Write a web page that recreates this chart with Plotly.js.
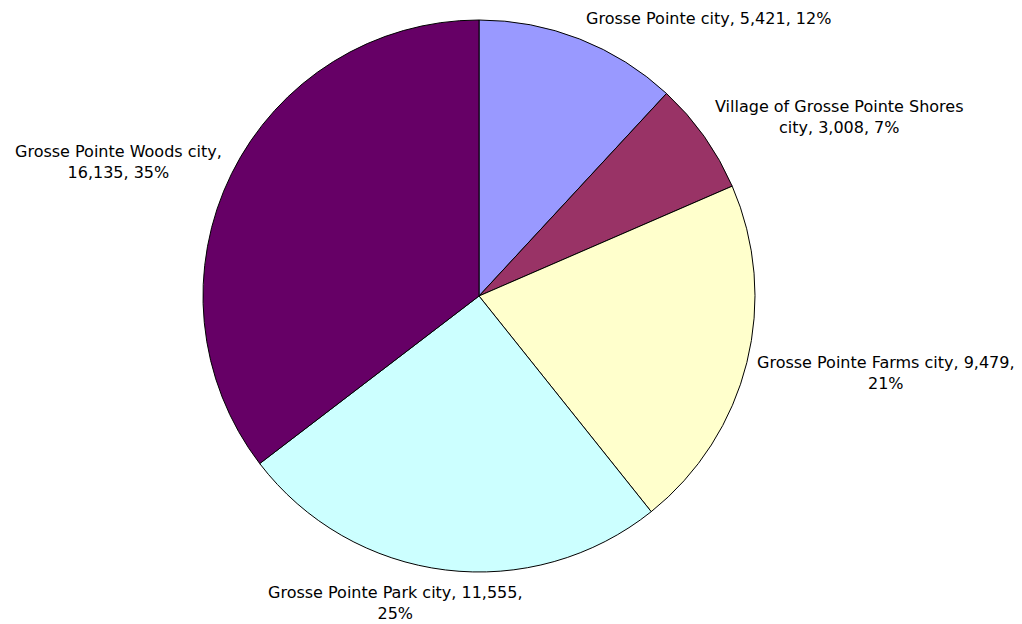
<!DOCTYPE html>
<html>
<head>
<meta charset="utf-8">
<script src="https://cdn.plot.ly/plotly-3.0.1.min.js"></script>
<style>html,body{margin:0;padding:0;background:#fff;}#chart{width:1022px;height:624px;}</style>
</head>
<body>
<div id="chart"></div>
<script>
var categories = ["Grosse Pointe city", "Village of Grosse Pointe Shores city", "Grosse Pointe Farms city", "Grosse Pointe Park city", "Grosse Pointe Woods city"];
var values = [5421, 3008, 9479, 11555, 16135];
var colors = ["#9999FF", "#993366", "#FFFFCC", "#CCFFFF", "#660066"];
// how each label's text wraps (line texts)
var labelLines = [
  ["Grosse Pointe city, 5,421, 12%"],
  ["Village of Grosse Pointe Shores", "city, 3,008, 7%"],
  ["Grosse Pointe Farms city, 9,479,", "21%"],
  ["Grosse Pointe Park city, 11,555,", "25%"],
  ["Grosse Pointe Woods city,", "16,135, 35%"]
];
// label anchor positions (paper fraction, top of text block)
var labelPos = [
  {x: 708/1022, y: 7/624},
  {x: 839/1022, y: 95/624},
  {x: 886/1022, y: 351/624},
  {x: 395/1022, y: 581/624},
  {x: 118/1022, y: 140/624}
];

var font = {family: "DejaVu Sans, sans-serif", size: 16, color: "#000"};

var annotations = labelLines.map(function(lines, i){
  return {
    xref: "paper", yref: "paper",
    x: labelPos[i].x, y: 1 - labelPos[i].y,
    xanchor: "center", yanchor: "top",
    text: lines.join("<br>"),
    showarrow: false, align: "center",
    font: font
  };
});

var trace = {
  type: "pie",
  labels: categories,
  values: values,
  sort: false,
  direction: "clockwise",
  rotation: 0,
  textinfo: "none",
  hoverinfo: "label+value+percent",
  marker: {colors: colors, line: {color: "#000", width: 1}},
  domain: {x: [203/1022, 755/1022], y: [1 - 572/624, 1 - 20/624]}
};

var layout = {
  width: 1022, height: 624,
  margin: {l: 0, r: 0, t: 0, b: 0},
  paper_bgcolor: "#fff",
  showlegend: false,
  annotations: annotations,
  font: font
};

Plotly.newPlot("chart", [trace], layout, {displayModeBar: false, staticPlot: true});
</script>
</body>
</html>
